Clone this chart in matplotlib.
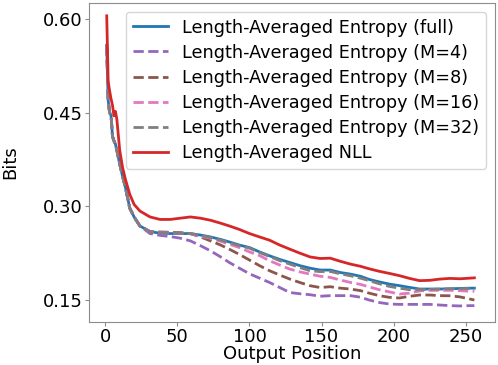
import matplotlib
matplotlib.use('Agg')
import matplotlib.pyplot as plt

# output positions where values were read
pos = [1, 2, 3, 4, 5, 6, 7, 8, 10, 12, 14, 17, 20, 24, 31, 38, 45, 52, 59, 66, 73, 80, 86, 93,
       100, 107, 114, 121, 128, 135, 142, 149, 156, 163, 170, 177, 183, 190, 197, 204, 211,
       218, 225, 232, 239, 246, 253, 256]

early = [0.558, 0.47, 0.45, 0.445, 0.412, 0.405, 0.40, 0.39, 0.368, 0.348, 0.33, 0.297, 0.283, 0.2686]

ent_full = early + [0.2595, 0.257, 0.2564, 0.2564, 0.2564, 0.254, 0.251, 0.247, 0.243, 0.238,
                    0.234, 0.227, 0.2207, 0.215, 0.210, 0.205, 0.201, 0.198, 0.198, 0.194,
                    0.1915, 0.188, 0.183, 0.179, 0.1755, 0.173, 0.1702, 0.1676, 0.1676, 0.1676,
                    0.168, 0.1685, 0.169, 0.169]
ent_m4 = early + [0.2564, 0.2535, 0.2516, 0.249, 0.2447, 0.237, 0.2287, 0.219, 0.2101, 0.201,
                  0.192, 0.185, 0.178, 0.170, 0.162, 0.160, 0.1585, 0.156, 0.157, 0.157,
                  0.157, 0.1545, 0.150, 0.146, 0.1436, 0.143, 0.143, 0.143, 0.143, 0.142,
                  0.141, 0.1405, 0.141, 0.141]
ent_m8 = early + [0.2595, 0.259, 0.2585, 0.258, 0.2564, 0.251, 0.2447, 0.238, 0.2314, 0.223,
                  0.214, 0.205, 0.1968, 0.190, 0.1835, 0.178, 0.1729, 0.170, 0.1713, 0.169,
                  0.1676, 0.165, 0.161, 0.157, 0.1543, 0.1532, 0.156, 0.158, 0.158, 0.157,
                  0.1568, 0.155, 0.1515, 0.150]
ent_m16 = early + [0.2595, 0.258, 0.2575, 0.257, 0.256, 0.252, 0.249, 0.244, 0.2394, 0.234,
                   0.227, 0.221, 0.2128, 0.206, 0.1995, 0.195, 0.1915, 0.188, 0.1862, 0.182,
                   0.1782, 0.175, 0.171, 0.1665, 0.163, 0.1596, 0.161, 0.1645, 0.1655, 0.1655,
                   0.1655, 0.165, 0.164, 0.164]
ent_m32 = early + [0.2595, 0.258, 0.2575, 0.257, 0.2564, 0.2535, 0.250, 0.246, 0.242, 0.237,
                   0.233, 0.226, 0.2196, 0.213, 0.2075, 0.202, 0.1968, 0.1955, 0.1957, 0.192,
                   0.1888, 0.185, 0.181, 0.176, 0.1718, 0.169, 0.1665, 0.1665, 0.167, 0.1675,
                   0.168, 0.168, 0.1685, 0.1685]
nll = [0.605, 0.50, 0.485, 0.472, 0.462, 0.445, 0.452, 0.44, 0.39, 0.362, 0.343, 0.319, 0.303,
       0.2925, 0.283, 0.279, 0.279, 0.281, 0.283, 0.281, 0.2777, 0.273, 0.2686, 0.263,
       0.2564, 0.251, 0.2457, 0.238, 0.2314, 0.225, 0.219, 0.2165, 0.217, 0.212, 0.2075,
       0.204, 0.200, 0.196, 0.1926, 0.189, 0.1846, 0.181, 0.1815, 0.1835, 0.1846, 0.184,
       0.185, 0.1855]

labels = ['Length-Averaged Entropy (full)', 'Length-Averaged Entropy (M=4)',
          'Length-Averaged Entropy (M=8)', 'Length-Averaged Entropy (M=16)',
          'Length-Averaged Entropy (M=32)', 'Length-Averaged NLL']

plt.rcParams['font.size'] = 13
fig = plt.figure(figsize=(4.98, 3.65), dpi=100)
ax = fig.add_axes([0.1787, 0.1178, 0.8153, 0.8748])

ax.plot(pos, ent_full, color='tab:blue', lw=2, label=labels[0])
ax.plot(pos, ent_m4, color='tab:purple', lw=2, ls='--', label=labels[1])
ax.plot(pos, ent_m8, color='tab:brown', lw=2, ls='--', label=labels[2])
ax.plot(pos, ent_m16, color='tab:pink', lw=2, ls='--', label=labels[3])
ax.plot(pos, ent_m32, color='tab:gray', lw=2, ls='--', label=labels[4])
ax.plot(pos, nll, color='tab:red', lw=2, label=labels[5])

ax.set_xlim(-11.3, 270.3)
ax.set_ylim(0.1148, 0.626)
ax.set_yticks([0.15, 0.30, 0.45, 0.60])
ax.set_xticks([0, 50, 100, 150, 200, 250])
ax.set_xlabel('Output Position', labelpad=-1)
ax.set_ylabel('Bits', labelpad=17)
for s in ax.spines.values():
    s.set_color('#8c8c8c')
ax.tick_params(color='#8c8c8c', length=3, pad=1.5)
ax.legend(loc='upper right', fontsize=12.7, handlelength=2.0, borderaxespad=0.5,
          labelspacing=0.4)

fig.savefig('out.png', dpi=100)
